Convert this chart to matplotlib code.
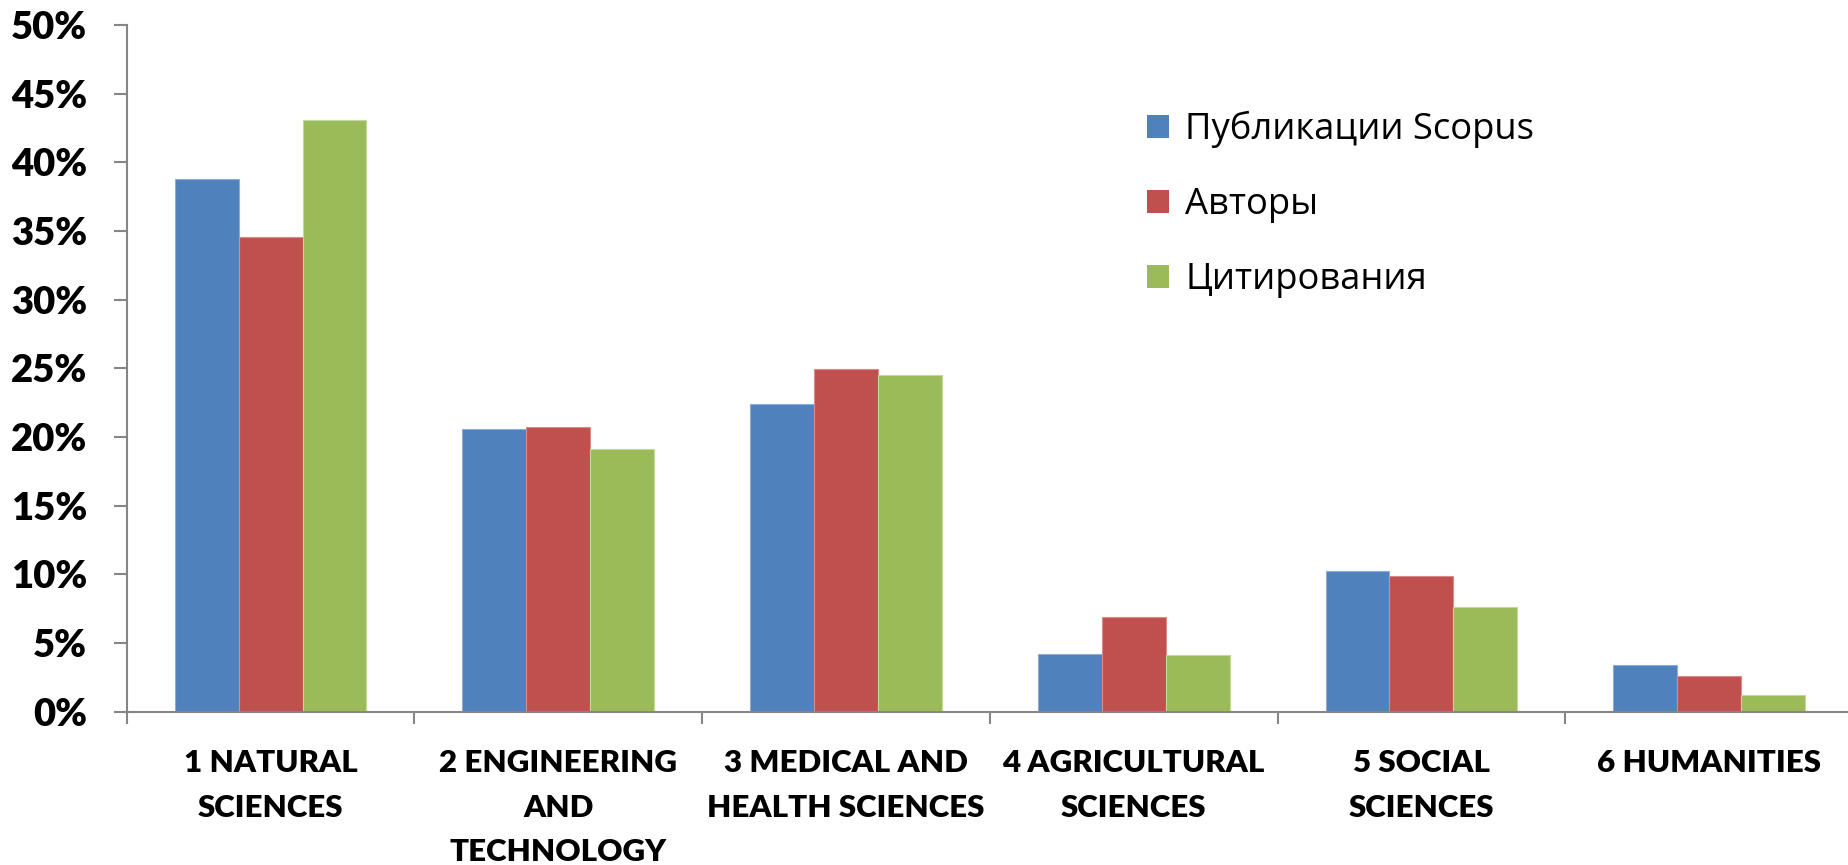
import matplotlib
matplotlib.use("Agg")
import matplotlib.pyplot as plt
import numpy as np
from matplotlib.ticker import FixedLocator, FuncFormatter

categories = ["1 NATURAL\nSCIENCES", "2 ENGINEERING\nAND\nTECHNOLOGY",
              "3 MEDICAL AND\nHEALTH SCIENCES", "4 AGRICULTURAL\nSCIENCES",
              "5 SOCIAL\nSCIENCES", "6 HUMANITIES"]
series_names = ["Публикации Scopus", "Авторы", "Цитирования"]
publications = [38.8, 20.55, 22.4, 4.2, 10.25, 3.4]
authors = [34.6, 20.7, 24.95, 6.9, 9.9, 2.6]
citations = [43.05, 19.1, 24.5, 4.1, 7.6, 1.2]
yticks = [0, 5, 10, 15, 20, 25, 30, 35, 40, 45, 50]

colors = ["#4F81BD", "#C0504D", "#9BBB59"]
edges = ["#8EADD6", "#D88C8A", "#C3D79B"]

fig = plt.figure(figsize=(18.49, 8.65), dpi=100)
ax = fig.add_axes([126.7 / 1849, 153.3 / 865, (1853 - 126.7) / 1849, (711.7 - 25) / 865])

x = np.arange(len(categories))
w = 1 / 4.5
for i, vals in enumerate([publications, authors, citations]):
    ax.bar(x + (i - 1) * w, vals, width=w, color=colors[i], edgecolor=edges[i],
           linewidth=0.8, label=series_names[i], zorder=2)

ax.set_xlim(-0.5, len(categories) - 0.5)
ax.set_ylim(0, 50)

gray = "#868686"
for s in ["top", "right"]:
    ax.spines[s].set_visible(False)
for s in ["left", "bottom"]:
    ax.spines[s].set_color(gray)
    ax.spines[s].set_linewidth(1.5)
    ax.spines[s].set_zorder(3)

ax.yaxis.set_major_locator(FixedLocator(yticks))
ax.yaxis.set_major_formatter(FuncFormatter(lambda v, p: f"{int(round(v))}%"))
ax.tick_params(axis="y", which="major", length=9.5, width=1.5, color=gray, pad=19,
               labelsize=27.5)
for lab in ax.get_yticklabels():
    lab.set_fontfamily(["Lato", "DejaVu Sans"])
    lab.set_fontweight("heavy")

ax.set_xticks(x)
ax.set_xticklabels(categories, fontsize=22.5, fontweight="heavy",
                   family=["Lato", "DejaVu Sans"], linespacing=1.72)
ax.set_xticks(np.arange(-0.5, len(categories) + 0.5, 1), minor=True)
ax.tick_params(axis="x", which="major", length=0, pad=27)
ax.tick_params(axis="x", which="minor", length=8.5, width=1.5, color=gray)

leg = ax.legend(loc="upper left", bbox_to_anchor=(1147 / 1849, 1 - 111 / 865),
                bbox_transform=fig.transFigure, frameon=False,
                prop={"family": ["Open Sans", "DejaVu Sans"], "size": 26.2},
                handlelength=0.6, handleheight=0.6, handletextpad=0.45,
                labelspacing=1.07, borderpad=0, borderaxespad=0)
for p in leg.get_patches():
    p.set_edgecolor("none")

fig.savefig("out.png", dpi=100)
